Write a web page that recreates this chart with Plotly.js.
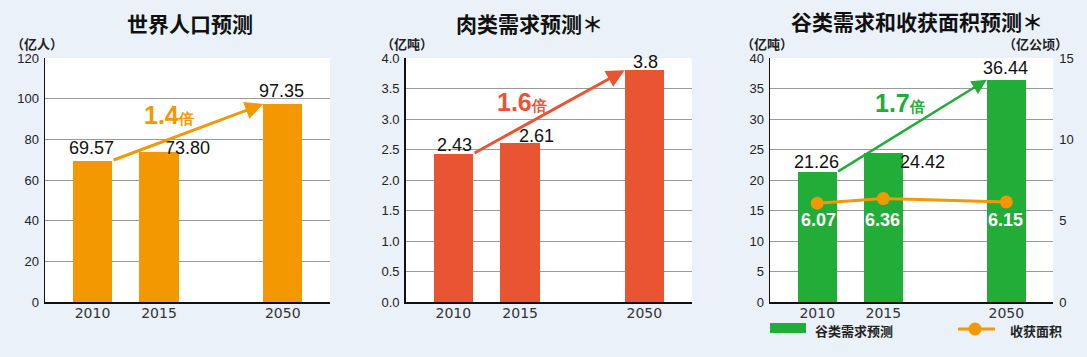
<!DOCTYPE html>
<html>
<head>
<meta charset="utf-8">
<script src="https://cdn.plot.ly/plotly-3.0.1.min.js"></script>
<style>
  html, body { margin: 0; padding: 0; background: #eaf1f9; }
  #chart { width: 1087px; height: 357px; }
</style>
</head>
<body>
<div id="chart"></div>
<script>
// ---------------- data ----------------
const years = ['2010', '2015', '2050'];
const population = [69.57, 73.80, 97.35];      // 亿人
const meatDemand = [2.43, 2.61, 3.8];           // 亿吨
const grainDemand = [21.26, 24.42, 36.44];      // 亿吨
const harvestArea = [6.07, 6.36, 6.15];         // 亿公顷
const popMultiple = '1.4';
const meatMultiple = '1.6';
const grainMultiple = '1.7';

const titles = ['世界人口预测', '肉类需求预测＊', '谷类需求和收获面积预测＊'];
const unitLeft = ['（亿人）', '（亿吨）', '（亿吨）'];
const unitRight = '（亿公顷）';
const legendNames = ['谷类需求预测', '收获面积'];

// ---------------- style ----------------
const W = 1087, H = 357;
const ORANGE = '#f39800', RED = '#e95532', GREEN = '#22ac38';
const CJK = '"Noto Sans CJK SC", sans-serif';
const NUM = '"Liberation Sans Narrow", "Liberation Sans", Arial, sans-serif';
const GAP = 0.86;           // extra gap before 2050
const BARW = 0.59;
const xpos = years.map((_, i) => i + (i === 2 ? GAP : 0));
const px = p => p / W;
const py = p => 1 - p / H;

const traces = [
  { type: 'bar', x: xpos, y: population, xaxis: 'x', yaxis: 'y', width: BARW,
    marker: { color: ORANGE }, hoverinfo: 'y', showlegend: false },
  { type: 'bar', x: xpos, y: meatDemand, xaxis: 'x2', yaxis: 'y2', width: BARW,
    marker: { color: RED }, hoverinfo: 'y', showlegend: false },
  { type: 'bar', x: xpos, y: grainDemand, xaxis: 'x3', yaxis: 'y3', width: BARW,
    marker: { color: GREEN }, name: legendNames[0], hoverinfo: 'y', showlegend: false },
  { type: 'scatter', mode: 'lines+markers', x: xpos, y: harvestArea, xaxis: 'x3', yaxis: 'y4',
    line: { color: ORANGE, width: 3 }, marker: { color: ORANGE, size: 13 },
    name: legendNames[1], hoverinfo: 'y', showlegend: false }
];

const xRange = [-0.714, 3.57];
function xAxis(dom, anchor) {
  return {
    domain: dom, anchor: anchor, range: xRange, type: 'linear',
    tickvals: xpos, ticktext: years, ticks: '', ticklabelstandoff: -2,
    showline: true, linecolor: '#111', linewidth: 1.5, showgrid: false, zeroline: false,
    tickfont: { family: '"DejaVu Sans", sans-serif', size: 14, color: '#333' },
    fixedrange: true
  };
}
function yAxis(anchor, range, dtick, fmt) {
  return {
    domain: [py(302), py(58)], anchor: anchor, range: range, dtick: dtick, tickformat: fmt,
    ticks: '', showline: true, linecolor: '#111', linewidth: 1.5,
    showgrid: true, gridcolor: '#9a9a9a', gridwidth: 1, zeroline: false,
    tickfont: { family: NUM, size: 13, color: '#222' }, ticklabelstandoff: 2,
    fixedrange: true
  };
}

const annotations = [];
function txt(x, y, text, opts) {
  annotations.push(Object.assign({ xref: 'paper', yref: 'paper', x: x, y: y, text: text,
    showarrow: false, xanchor: 'center', yanchor: 'middle' }, opts));
}
// titles
[[190, 23], [529, 23], [917, 20.5]].forEach((p, i) =>
  txt(px(p[0]), py(p[1]), '<b>' + titles[i] + '</b>', { height: 24, font: { family: CJK, size: 21, color: '#111' } }));
// units
[[36.5, 42.5], [406.5, 42.5], [766.5, 42.5]].forEach((p, i) =>
  txt(px(p[0]), py(p[1]), '<b>' + unitLeft[i] + '</b>', { height: 16, font: { family: CJK, size: 13, color: '#222' } }));
txt(px(1035), py(43), '<b>' + unitRight + '</b>', { height: 16, font: { family: CJK, size: 13, color: '#222' } });

// value labels
function valLabels(xr, yr, vals, fmt, shifts, color, bold) {
  vals.forEach((v, i) => {
    annotations.push({ xref: xr, yref: yr, x: xpos[i], y: v, text: bold ? '<b>' + fmt(v) + '</b>' : fmt(v),
      showarrow: false, xanchor: 'center', yanchor: 'middle',
      xshift: shifts[i][0], yshift: shifts[i][1],
      font: { family: NUM, size: 18, color: color } });
  });
}
valLabels('x', 'y', population, v => v.toFixed(2), [[-1.5, 12.6], [28.5, 4], [-1.5, 13]], '#111');
valLabels('x2', 'y2', meatDemand, v => String(v), [[1, 9], [16, 7], [1, 8]], '#111');
valLabels('x3', 'y3', grainDemand, v => String(v), [[-1, 10.6], [39.3, -8.7], [-1, 11.7]], '#111');
valLabels('x3', 'y4', harvestArea, v => v.toFixed(2), [[1, -17], [-1, -21.5], [-1, -18]], '#fff', true);

// growth arrows
function arrow(xr, yr, vals, color, width) {
  annotations.push({ xref: xr, yref: yr, axref: xr, ayref: yr,
    x: xpos[2] - BARW / 2, y: vals[2], ax: xpos[0] + BARW / 2, ay: vals[0],
    text: '', showarrow: true, arrowhead: 2, arrowsize: 1.2, arrowwidth: width,
    arrowcolor: color, standoff: 0, startstandoff: 0 });
}
arrow('x', 'y', population, ORANGE, 3);
arrow('x2', 'y2', meatDemand, RED, 3);
arrow('x3', 'y3', grainDemand, GREEN, 2.5);

// multipliers
function mult(cx, cy, m, color) {
  txt(px(cx), py(cy), '<b>' + m + '</b><span style="font-size:15px"><b>倍</b></span>',
    { font: { family: '"Liberation Sans", Arial, sans-serif', size: 25, color: color } });
}
mult(168.5, 115, popMultiple, ORANGE);
mult(521.5, 102.5, meatMultiple, RED);
mult(900, 103, grainMultiple, GREEN);

// legend (panel 3)
const shapes = [
  { type: 'rect', xref: 'paper', yref: 'paper', x0: px(770), x1: px(806), y0: py(333), y1: py(323),
    fillcolor: GREEN, line: { width: 0 } },
  { type: 'line', xref: 'paper', yref: 'paper', x0: px(958), x1: px(995), y0: py(329), y1: py(329),
    line: { color: ORANGE, width: 3 } },
  { type: 'circle', xref: 'paper', yref: 'paper', x0: px(968.5), x1: px(981.5), y0: py(335.5), y1: py(322.5),
    fillcolor: ORANGE, line: { width: 0 } }
];
txt(px(813), py(330), '<b>' + legendNames[0] + '</b>', { xanchor: 'left', height: 15, font: { family: CJK, size: 13, color: '#222' } });
txt(px(1008), py(330), '<b>' + legendNames[1] + '</b>', { xanchor: 'left', height: 15, font: { family: CJK, size: 13, color: '#222' } });

const layout = {
  width: W, height: H,
  margin: { l: 0, r: 0, t: 0, b: 0 },
  paper_bgcolor: '#eaf1f9', plot_bgcolor: '#ffffff',
  showlegend: false, bargap: 0,
  xaxis: xAxis([px(45), px(330)], 'y'),
  xaxis2: xAxis([px(405.7), px(691.7)], 'y2'),
  xaxis3: xAxis([px(770), px(1053.3)], 'y3'),
  yaxis: yAxis('x', [0, 120], 20, 'd'),
  yaxis2: yAxis('x2', [0, 4], 0.5, '.1f'),
  yaxis3: yAxis('x3', [0, 40], 5, 'd'),
  yaxis4: Object.assign(yAxis('x3', [0, 15], 5, 'd'), {
    overlaying: 'y3', side: 'right', showline: false, showgrid: false, ticklabelstandoff: 5 }),
  annotations: annotations,
  shapes: shapes
};

Plotly.newPlot('chart', traces, layout, { staticPlot: true });
</script>
</body>
</html>
